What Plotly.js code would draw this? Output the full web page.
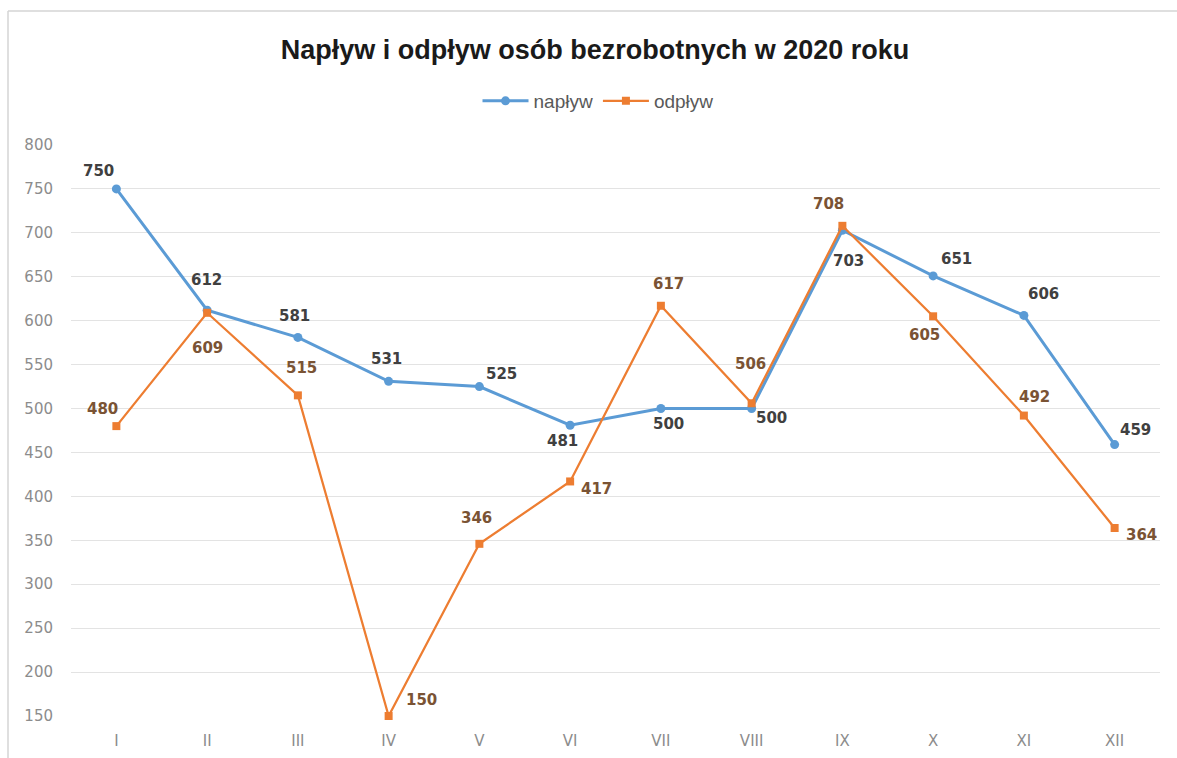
<!DOCTYPE html>
<html>
<head>
<meta charset="utf-8">
<script src="https://cdn.plot.ly/plotly-3.0.1.min.js"></script>
<style>html,body{margin:0;padding:0;background:#fff;}#chart{width:1177px;height:758px;}</style>
</head>
<body>
<div id="chart"></div>
<script>
const months = ['I','II','III','IV','V','VI','VII','VIII','IX','X','XI','XII'];
const naplyw = [750, 612, 581, 531, 525, 481, 500, 500, 703, 651, 606, 459];
const odplyw = [480, 609, 515, 150, 346, 417, 617, 506, 708, 605, 492, 364];
const seriesNames = ['napływ', 'odpływ'];
const chartTitle = 'Napływ i odpływ osób bezrobotnych w 2020 roku';

// label offsets in pixels (style only)
const naplywShift = [[-18,18],[-1,30],[-3,21],[-2,22],[22,13],[-8,-16],[8,-15],[20,-9],[6,-31],[23,17],[20,21],[21,15]];
const odplywShift = [[-14,17],[0,-35],[4,27],[33,16],[-3,26],[26,-8],[8,22],[-1,39],[-14,22],[-9,-19],[11,19],[27,-7]];

const blue = '#5B9BD5', orange = '#ED7D31';
const labelFont = 'DejaVu Sans, Verdana, sans-serif';

const annotations = [];
months.forEach((m, i) => {
  annotations.push({x: i, y: naplyw[i], xref: 'x', yref: 'y', text: String(naplyw[i]), showarrow: false,
    xshift: naplywShift[i][0], yshift: naplywShift[i][1],
    font: {family: labelFont, size: 15, color: '#404040', weight: 'bold'}});
  annotations.push({x: i, y: odplyw[i], xref: 'x', yref: 'y', text: String(odplyw[i]), showarrow: false,
    xshift: odplywShift[i][0], yshift: odplywShift[i][1],
    font: {family: labelFont, size: 15, color: '#7a5334', weight: 'bold'}});
});

const traces = [
  {x: months.map((m,i)=>i), y: naplyw, name: seriesNames[0], type: 'scatter', mode: 'lines+markers', cliponaxis: false,
   line: {color: blue, width: 3}, marker: {color: blue, symbol: 'circle', size: 9}},
  {x: months.map((m,i)=>i), y: odplyw, name: seriesNames[1], type: 'scatter', mode: 'lines+markers', cliponaxis: false,
   line: {color: orange, width: 2.25}, marker: {color: orange, symbol: 'square', size: 8}}
];

const layout = {
  width: 1177, height: 758,
  margin: {l: 71, r: 17, t: 145, b: 42},
  paper_bgcolor: '#ffffff', plot_bgcolor: '#ffffff',
  title: {text: chartTitle, x: 595/1177, xref: 'container', xanchor: 'center',
    y: 1 - 50/758, yref: 'container', yanchor: 'middle',
    font: {family: 'Liberation Sans, Arial, sans-serif', size: 27, color: '#1a1a1a', weight: 'bold'}},
  showlegend: true,
  legend: {orientation: 'h', x: 598/1177, xref: 'container', xanchor: 'center', y: 1 - 101/758, yref: 'container', yanchor: 'middle',
    font: {family: 'Liberation Sans, Arial, sans-serif', size: 19, color: '#595959'}, itemwidth: 46},
  xaxis: {range: [-0.5, 11.5], tickmode: 'array', tickvals: months.map((m,i)=>i), ticktext: months,
    showgrid: false, zeroline: false, showline: false, ticks: '', ticklabelstandoff: 14,
    tickfont: {family: labelFont, size: 15, color: '#8c8c8c'}, fixedrange: true},
  yaxis: {range: [150, 800], dtick: 50, tick0: 150, showgrid: true, gridcolor: '#e3e3e3', gridwidth: 1,
    zeroline: false, showline: false, ticks: '', ticklabelstandoff: 17,
    tickfont: {family: labelFont, size: 15, color: '#8c8c8c'}, fixedrange: true},
  annotations: annotations,
  shapes: [
    {type: 'line', xref: 'paper', yref: 'paper', x0: (8-71)/1089, x1: 1.05, y0: (716-11)/571, y1: (716-11)/571,
     line: {color: '#d4d4d4', width: 1.5}},
    {type: 'line', xref: 'paper', yref: 'paper', x0: (8-71)/1089, x1: (8-71)/1089, y0: (716-11)/571, y1: -0.1,
     line: {color: '#d4d4d4', width: 1.5}}
  ]
};

Plotly.newPlot('chart', traces, layout, {displayModeBar: false, staticPlot: true});
</script>
</body>
</html>
